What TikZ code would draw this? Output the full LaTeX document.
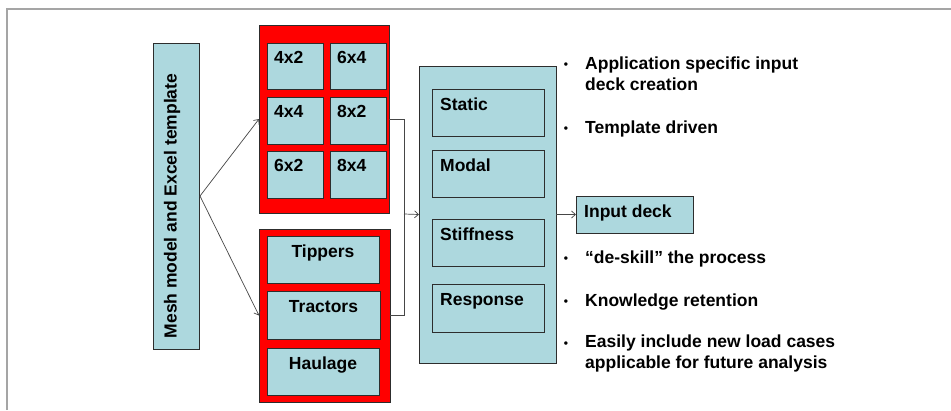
\documentclass[tikz,border=0pt]{standalone}
\usepackage{fontspec}
\setmainfont{Liberation Sans}
\usetikzlibrary{arrows.meta}
\definecolor{lb}{RGB}{173,216,222}
\definecolor{frameg}{RGB}{165,165,165}
\definecolor{edge}{RGB}{45,45,45}
\definecolor{conncol}{RGB}{70,70,70}
\begin{document}
\begin{tikzpicture}[x=1pt,y=-1pt,
  box/.style={draw=edge, line width=0.8pt, fill=lb, inner sep=0pt, outer sep=0pt, anchor=north west},
  redbox/.style={draw=edge, line width=0.8pt, fill=red, inner sep=0pt, outer sep=0pt, anchor=north west},
  lbl/.style={font=\bfseries\fontsize{17.5}{21}\selectfont, inner sep=0pt},
  bul/.style={font=\bfseries\fontsize{17.5}{21}\selectfont, inner sep=0pt, anchor=base west, align=left},
  dot/.style={font=\bfseries\fontsize{12}{14}\selectfont, inner sep=0pt, anchor=base},
  conn/.style={draw=conncol, line width=0.7pt},
  arr/.style={conn, -{Straight Barb[length=4pt,width=7pt]}}]

\useasboundingbox (0,0) rectangle (951,410);
\fill[white] (0,0) rectangle (951,410);
\draw[frameg, line width=2pt] (7,410) -- (7,8.5) -- (951,8.5);

% mesh model box
\node[box, minimum width=46pt, minimum height=306pt] (mesh) at (153,43) {};
\node[lbl, rotate=90] (meshlbl) at (172,206) {Mesh model and Excel template};

% red box 1 with sizes
\node[redbox, minimum width=130pt, minimum height=188pt] (red1) at (259,25) {};
\node[box, minimum width=56pt, minimum height=46pt] (c42) at (267,43) {};
\node[box, minimum width=56pt, minimum height=46pt] (c64) at (330,43) {};
\node[box, minimum width=56pt, minimum height=47pt] (c44) at (267,97) {};
\node[box, minimum width=56pt, minimum height=47pt] (c82) at (330,97) {};
\node[box, minimum width=56pt, minimum height=47pt] (c62) at (267,151) {};
\node[box, minimum width=56pt, minimum height=47pt] (c84) at (330,151) {};
\foreach \n/\t in {c42/4x2,c64/6x4,c44/4x4,c82/8x2,c62/6x2,c84/8x4}
  \node[lbl, anchor=base west] (\n l) at ([xshift=7pt,yshift=-20pt]\n.north west) {\t};

% red box 2 with vehicle types
\node[redbox, minimum width=131pt, minimum height=173pt] (red2) at (259,229) {};
\node[box, minimum width=112pt, minimum height=47pt] (tip) at (267,236) {};
\node[box, minimum width=113pt, minimum height=48pt] (tra) at (267,291) {};
\node[box, minimum width=112pt, minimum height=47pt] (hau) at (267,348) {};
\foreach \n/\t in {tip/Tippers,tra/Tractors,hau/Haulage}
  \node[lbl, anchor=base] (\n l) at ([yshift=-21pt]\n.north) {\t};

% big analysis box
\node[box, minimum width=137pt, minimum height=297pt] (big) at (419,66) {};
\node[box, minimum width=112pt, minimum height=47pt] (sta) at (432,89) {};
\node[box, minimum width=112pt, minimum height=47pt] (mod) at (432,150) {};
\node[box, minimum width=112pt, minimum height=47pt] (sti) at (432,219) {};
\node[box, minimum width=112pt, minimum height=48pt] (res) at (432,284) {};
\foreach \n/\t in {sta/Static,mod/Modal,sti/Stiffness,res/Response}
  \node[lbl, anchor=base west] (\n l) at ([xshift=8pt,yshift=-21pt]\n.north west) {\t};

% input deck
\node[box, minimum width=117pt, minimum height=37pt] (inp) at (576,196) {};
\node[lbl, anchor=base west] (inpl) at ([xshift=8pt,yshift=-21pt]inp.north west) {Input deck};

% connectors
\coordinate (j) at (200,196);
\draw[arr] (j) -- (red1.west);
\draw[arr] (j) -- (red2.west);
\coordinate (m) at (404,214);
\draw[conn] (red1.east) -| (m);
\draw[conn] (red2.east) -| (m);
\draw[arr] (m) -- (big.west);
\draw[arr] (big.east) -- (inp.west);

% bullets
\node[dot] (d1) at (566,68) {•};
\node[bul] (b1) at (585,90) {Application specific input\\deck creation};
\node[dot] (d2) at (566,132) {•};
\node[bul] (b2) at (585,133) {Template driven};
\node[dot] (d3) at (566,262) {•};
\node[bul] (b3) at (585,263) {“de-skill” the process};
\node[dot] (d4) at (566,305) {•};
\node[bul] (b4) at (585,306) {Knowledge retention};
\node[dot] (d5) at (566,347) {•};
\node[bul] (b5) at (585,368) {Easily include new load cases\\applicable for future analysis};
\end{tikzpicture}
\end{document}
